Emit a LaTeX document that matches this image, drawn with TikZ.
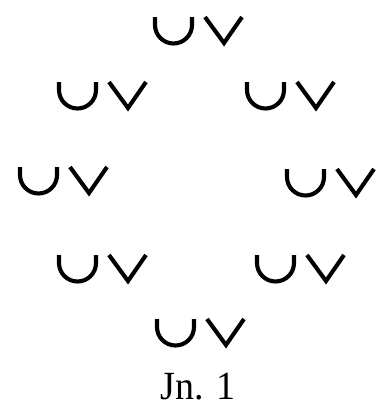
\documentclass[tikz,border=0pt]{standalone}
\usepackage{fontspec}
\setmainfont{Liberation Serif}
\begin{document}
\begin{tikzpicture}[x=1pt,y=-1pt,
  stroke/.style={line width=4.1pt,black},
  uv/.pic={
    \draw[stroke] (2,2) -- (2,10) arc[start angle=180,end angle=0,radius=18.5] -- (39,2);
    \draw[stroke,miter limit=10] (52,2) -- (71,28) -- (89,2);
  }]
\useasboundingbox (0,0) rectangle (380,405);
\pic at (153,15) {uv};
\pic at (57,80) {uv};
\pic at (245,80) {uv};
\pic at (18,165) {uv};
\pic at (285,167) {uv};
\pic at (57,253) {uv};
\pic at (255,253) {uv};
\pic at (155,317) {uv};
\node[anchor=base,font=\fontsize{40}{40}\selectfont,inner sep=0pt,xscale=0.95] (cap) at (198,399) {Jn. 1};
\end{tikzpicture}
\end{document}
